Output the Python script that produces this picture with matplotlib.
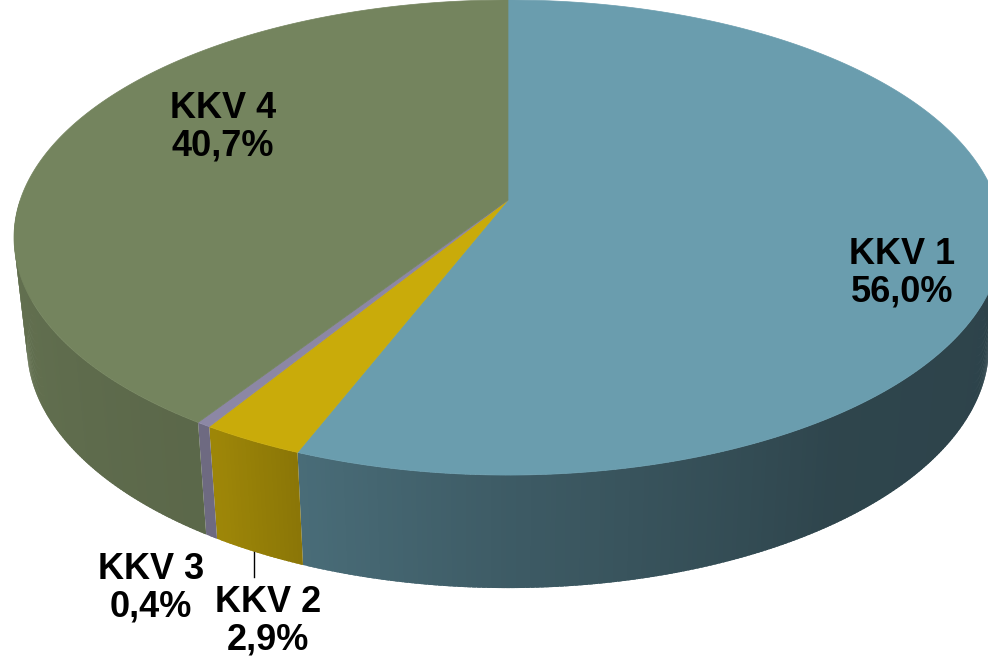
import numpy as np
import matplotlib
matplotlib.use("Agg")
import matplotlib.pyplot as plt
from matplotlib.patches import Polygon

# ---- data ----
names = ["KKV 1", "KKV 2", "KKV 3", "KKV 4"]
values = [56.0, 2.9, 0.4, 40.7]
top_colors = ["#6A9DAE", "#C9AB0A", "#8C87A5", "#74845E"]

# ---- wall lighting profile (fraction of sweep from left -> right) ----
light_t = [0.0, 0.33, 0.38, 0.5, 0.7, 1.0]
light_f = [0.87, 0.78, 0.69, 0.58, 0.44, 0.42]

# ---- label placement (pixels) ----
label_pos = [(902, 273), (268, 621), (151, 588), (223, 127)]

# ---- projection parameters (pixels) ----
cx, cy = 508.0, 200.0
A, B, K = 487.8, 231.6, 0.158          # top disk
A2, B2, cy2 = 475.0, 236.0, 307.8      # bottom disk

def proj(theta_deg, z):
    t = np.radians(theta_deg)
    X, Y = np.cos(t), np.sin(t)
    d = 1 + K * Y
    if z == 0:
        return cx + A * X / d, cy - B * Y / d
    return cx + A2 * X / d, cy2 - B2 * Y / d

def shade(hexcol, f):
    c = np.array(matplotlib.colors.to_rgb(hexcol))
    return tuple(np.clip(c * f, 0, 1))

fig = plt.figure(figsize=(9.88, 6.6), dpi=100)
ax = fig.add_axes([0, 0, 1, 1])
ax.set_xlim(0, 988)
ax.set_ylim(660, 0)
ax.axis("off")

# slice angular ranges (clockwise from 12 o'clock)
ranges = []
start = 90.0
for v in values:
    end = start - 360.0 * v / 100.0
    ranges.append((end, start))
    start = end

# side walls: visible for theta in [-180, 0]
step = 0.5
for (lo, hi), col in zip(ranges, top_colors):
    for shift in (0, 360, -360):
        a0, a1 = max(lo + shift, -180), min(hi + shift, 0)
        if a1 <= a0:
            continue
        n = max(int(np.ceil((a1 - a0) / step)), 1)
        edges = np.linspace(a0, a1, n + 1)
        for i, (e0, e1) in enumerate(zip(edges[:-1], edges[1:])):
            mid = 0.5 * (e0 + e1)
            tt = (mid + 180) / 180
            f = np.interp(tt, light_t, light_f)
            e1x = min(e1 + step * 0.8, a1) if i < n - 1 else e1
            xs0, ys0 = proj(np.array([e0, e1x]), 0)
            xs1, ys1 = proj(np.array([e1x, e0]), 1)
            poly = Polygon(np.column_stack([np.r_[xs0, xs1], np.r_[ys0, ys1]]),
                           closed=True, facecolor=shade(col, f),
                           edgecolor="none", linewidth=0)
            ax.add_patch(poly)

# top faces
for (lo, hi), col in zip(ranges, top_colors):
    th = np.linspace(hi, lo, max(int((hi - lo) * 2), 3))
    xs, ys = proj(th, 0)
    pts = np.column_stack([np.r_[cx, xs], np.r_[cy, ys]])
    ax.add_patch(Polygon(pts, closed=True, facecolor=col, edgecolor=col, linewidth=0.5))

# labels
for name, v, (lx, ly) in zip(names, values, label_pos):
    txt = f"{name}\n{v:.1f}%".replace(".", ",")
    ax.text(lx, ly, txt, ha="center", va="center", fontsize=26,
            fontweight="bold", family=["Liberation Sans", "DejaVu Sans"],
            linespacing=1.1, color="black")

# leader line for KKV 2
ax.plot([254, 254], [552, 577], color="black", linewidth=1)

fig.savefig("out.png", dpi=100)
